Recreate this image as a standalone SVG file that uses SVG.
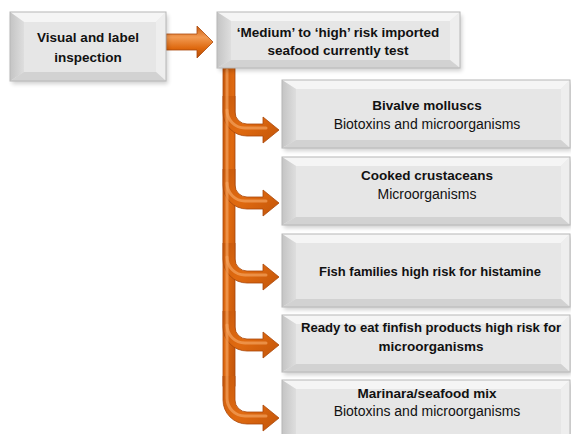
<svg xmlns="http://www.w3.org/2000/svg" width="571" height="434" viewBox="0 0 571 434">
<defs>
<style>
.face{fill:#e6e6e6}
.bl{fill:url(#gl)}
.bt{fill:#f5f5f5}
.br{fill:#eeeeee}
.bb{fill:#d2d2d2}
.edge{fill:none;stroke:#b8b8b8;stroke-width:1}
.sh{fill:#000;opacity:0.18;filter:url(#blur)}
.b{font-family:"Liberation Sans",Arial,sans-serif;font-weight:bold;font-size:13.5px;fill:#111;text-anchor:middle}
.r{font-family:"Liberation Sans",Arial,sans-serif;font-size:14px;fill:#111;text-anchor:middle}
.arr{fill:url(#og);stroke:#a9480a;stroke-width:0.8}
.hl{fill:none;stroke:#f3a25e;stroke-width:3;stroke-linecap:round;opacity:0.7}
</style>
<linearGradient id="gl" x1="0" y1="0" x2="1" y2="0">
<stop offset="0" stop-color="#c4c4c4"/>
<stop offset="1" stop-color="#dedede"/>
</linearGradient>
<linearGradient id="og" x1="0" y1="0" x2="1" y2="1">
<stop offset="0" stop-color="#c95a0c"/>
<stop offset="0.5" stop-color="#e06a10"/>
<stop offset="1" stop-color="#c2550a"/>
</linearGradient>
<linearGradient id="ogh" x1="0" y1="0" x2="0" y2="1">
<stop offset="0" stop-color="#c85a0c"/>
<stop offset="0.35" stop-color="#f29a52"/>
<stop offset="0.7" stop-color="#de680e"/>
<stop offset="1" stop-color="#b24d08"/>
</linearGradient>
<filter id="blur" x="-10%" y="-10%" width="120%" height="130%"><feGaussianBlur stdDeviation="2"/></filter>
</defs>

<g id="connectors">
<path d="M166 34 L197 34 L197 26 L213 42 L197 58 L197 50 L166 50 Z" fill="url(#ogh)" stroke="#a9480a" stroke-width="0.8"/>
<rect x="223" y="66" width="12" height="320" class="arr"/>
<path class="arr" d="M235 96 L235 112 A12 12 0 0 0 247 124 L263 124 L263 117 L279 130 L263 143 L263 136 L247 136 A24 24 0 0 1 223 112 L223 96"/>
<path class="arr" d="M235 169 L235 185 A12 12 0 0 0 247 197 L263 197 L263 190 L279 203 L263 216 L263 209 L247 209 A24 24 0 0 1 223 185 L223 169"/>
<path class="arr" d="M235 243 L235 259 A12 12 0 0 0 247 271 L263 271 L263 264 L279 277 L263 290 L263 283 L247 283 A24 24 0 0 1 223 259 L223 243"/>
<path class="arr" d="M235 311 L235 327 A12 12 0 0 0 247 339 L263 339 L263 332 L279 345 L263 358 L263 351 L247 351 A24 24 0 0 1 223 327 L223 311"/>
<path class="arr" d="M235 376 L235 400 A12 12 0 0 0 247 412 L263 412 L263 405 L279 418 L263 431 L263 424 L247 424 A24 24 0 0 1 223 400 L223 376"/>
<path class="hl" d="M227 70 L227 398 A18 18 0 0 0 245 416 L266 416"/>
<path class="hl" d="M227 110 A18 18 0 0 0 245 128 L266 128"/>
<path class="hl" d="M227 183 A18 18 0 0 0 245 201 L266 201"/>
<path class="hl" d="M227 257 A18 18 0 0 0 245 275 L266 275"/>
<path class="hl" d="M227 325 A18 18 0 0 0 245 343 L266 343"/>
</g>

<g id="n1">
<rect class="sh" x="12" y="15" width="156" height="69"/>
<rect class="face" x="10" y="12" width="156" height="69"/>
<polygon class="bt" points="10,12 166,12 156,22 24,22"/>
<polygon class="bl" points="10,12 24,22 24,72 10,81"/>
<polygon class="br" points="166,12 166,81 156,72 156,22"/>
<polygon class="bb" points="10,81 24,72 156,72 166,81"/>
<rect class="edge" x="10" y="12" width="156" height="69"/>
<text class="b" x="88" y="42">Visual and label</text>
<text class="b" x="88" y="62">inspection</text>
</g>

<g id="n2">
<rect class="sh" x="219" y="15" width="243" height="56"/>
<rect class="face" x="217" y="12" width="243" height="56"/>
<polygon class="bt" points="217,12 460,12 450,21 231,21"/>
<polygon class="bl" points="217,12 231,21 231,60 217,68"/>
<polygon class="br" points="460,12 460,68 450,60 450,21"/>
<polygon class="bb" points="217,68 231,60 450,60 460,68"/>
<rect class="edge" x="217" y="12" width="243" height="56"/>
<text class="b" x="338" y="37">‘Medium’ to ‘high’ risk imported</text>
<text class="b" x="338" y="55">seafood currently test</text>
</g>

<g id="n3">
<rect class="sh" x="284" y="83" width="288" height="68"/>
<rect class="face" x="282" y="80" width="288" height="68"/>
<polygon class="bt" points="282,80 570,80 561,89 296,89"/>
<polygon class="bl" points="282,80 296,89 296,140 282,148"/>
<polygon class="br" points="570,80 570,148 561,140 561,89"/>
<polygon class="bb" points="282,148 296,140 561,140 570,148"/>
<rect class="edge" x="282" y="80" width="288" height="68"/>
<text class="b" x="427" y="110">Bivalve molluscs</text>
<text class="r" x="427" y="129">Biotoxins and microorganisms</text>
</g>

<g id="n4">
<rect class="sh" x="284" y="160" width="288" height="68"/>
<rect class="face" x="282" y="157" width="288" height="68"/>
<polygon class="bt" points="282,157 570,157 561,166 296,166"/>
<polygon class="bl" points="282,157 296,166 296,217 282,225"/>
<polygon class="br" points="570,157 570,225 561,217 561,166"/>
<polygon class="bb" points="282,225 296,217 561,217 570,225"/>
<rect class="edge" x="282" y="157" width="288" height="68"/>
<text class="b" x="427" y="180">Cooked crustaceans</text>
<text class="r" x="427" y="199">Microorganisms</text>
</g>

<g id="n5">
<rect class="sh" x="284" y="237" width="288" height="73"/>
<rect class="face" x="282" y="234" width="288" height="73"/>
<polygon class="bt" points="282,234 570,234 561,243 296,243"/>
<polygon class="bl" points="282,234 296,243 296,299 282,307"/>
<polygon class="br" points="570,234 570,307 561,299 561,243"/>
<polygon class="bb" points="282,307 296,299 561,299 570,307"/>
<rect class="edge" x="282" y="234" width="288" height="73"/>
<text class="b" x="430" y="276" textLength="222" lengthAdjust="spacingAndGlyphs">Fish families high risk for histamine</text>
</g>

<g id="n6">
<rect class="sh" x="284" y="318" width="288" height="57"/>
<rect class="face" x="282" y="315" width="288" height="57"/>
<polygon class="bt" points="282,315 570,315 561,324 296,324"/>
<polygon class="bl" points="282,315 296,324 296,364 282,372"/>
<polygon class="br" points="570,315 570,372 561,364 561,324"/>
<polygon class="bb" points="282,372 296,364 561,364 570,372"/>
<rect class="edge" x="282" y="315" width="288" height="57"/>
<text class="b" x="431" y="332" textLength="260" lengthAdjust="spacingAndGlyphs">Ready to eat finfish products high risk for</text>
<text class="b" x="431" y="351">microorganisms</text>
</g>

<g id="n7">
<rect class="sh" x="284" y="383" width="288" height="68"/>
<rect class="face" x="282" y="380" width="288" height="68"/>
<polygon class="bt" points="282,380 570,380 561,389 296,389"/>
<polygon class="bl" points="282,380 296,389 296,440 282,448"/>
<polygon class="br" points="570,380 570,448 561,440 561,389"/>
<rect class="edge" x="282" y="380" width="288" height="68"/>
<text class="b" x="427" y="398">Marinara/seafood mix</text>
<text class="r" x="427" y="416">Biotoxins and microorganisms</text>
</g>
</svg>
